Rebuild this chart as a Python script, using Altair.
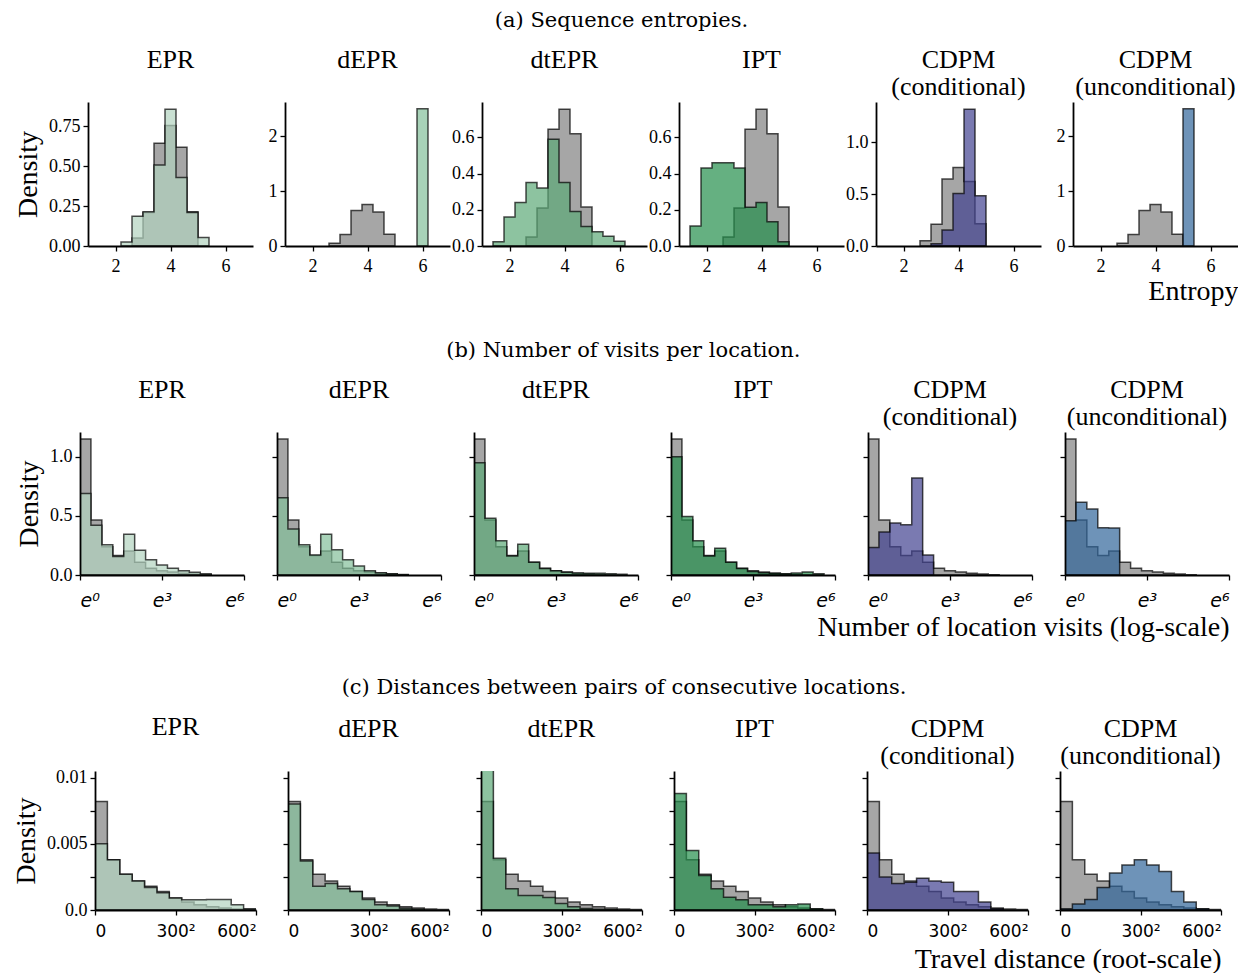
import altair as alt
import pandas as pd

SERIF = "Liberation Serif"
SANS = "DejaVu Sans"

PANEL_TITLES = [["EPR", " "], ["dEPR", " "], ["dtEPR", " "], ["IPT", " "],
                ["CDPM", "(conditional)"], ["CDPM", "(unconditional)"]]
MODEL_COLORS = ["#b2d3bf", "#83bf9a", "#5ca977", "#248e4c", "#424290", "#31659a"]
GREY = "#808080"

# ---------------- (a) Sequence entropies ----------------
edges_a = [1.4, 1.8, 2.2, 2.6, 3.0, 3.4, 3.8, 4.2, 4.6, 5.0, 5.4, 5.8, 6.2]
grey_a = [0, 0, 0, 0.05, 0.21, 0.645, 0.755, 0.62, 0.215, 0, 0, 0]
models_a = [
    [0, 0, 0.025, 0.187, 0.214, 0.508, 0.857, 0.43, 0.21, 0.053, 0, 0],          # EPR
    [0, 0, 0, 0, 0, 0, 0, 0, 0, 0, 0, 2.5],                                         # dEPR
    [0.024, 0.16, 0.24, 0.35, 0.32, 0.59, 0.35, 0.19, 0.108, 0.078, 0.054, 0.026], # dtEPR
    [0.11, 0.43, 0.46, 0.46, 0.43, 0.214, 0.24, 0.134, 0.024, 0, 0, 0],            # IPT
    [0, 0, 0, 0, 0.022, 0.155, 0.506, 1.316, 0.484, 0, 0, 0],                       # CDPM cond
    [0, 0, 0, 0, 0, 0, 0, 0, 0, 2.5, 0, 0],                                         # CDPM uncond
]
ydom_a = [0.903, 2.625, 0.795, 0.795, 1.386, 2.625]
yticks_a = [[0, 0.25, 0.5, 0.75], [0, 1, 2], [0, 0.2, 0.4, 0.6], [0, 0.2, 0.4, 0.6],
            [0, 0.5, 1.0], [0, 1, 2]]
yfmt_a = [".2f", "d", ".1f", ".1f", ".1f", "d"]

# ---------------- (b) Visits per location (log scale) ----------------
edges_b = [0, 0.4, 0.8, 1.2, 1.6, 2.0, 2.4, 2.8, 3.2, 3.6, 4.0, 4.4, 4.8, 5.2, 5.6]
grey_b = [1.15, 0.465, 0.24, 0.165, 0.204, 0.107, 0.057, 0.037, 0.025, 0.014, 0.008, 0.003, 0, 0]
models_b = [
    [0.69, 0.42, 0.256, 0.156, 0.344, 0.21, 0.128, 0.085, 0.057, 0.037, 0.023, 0.011, 0, 0],
    [0.653, 0.39, 0.256, 0.17, 0.344, 0.213, 0.128, 0.077, 0.037, 0.02, 0.011, 0.005, 0, 0],
    [0.95, 0.48, 0.29, 0.16, 0.26, 0.107, 0.054, 0.037, 0.023, 0.017, 0.014, 0.014, 0.011, 0.006],
    [1.0, 0.495, 0.29, 0.16, 0.226, 0.107, 0.054, 0.03, 0.02, 0.014, 0.011, 0.017, 0.025, 0.01],
    [0.232, 0.363, 0.44, 0.425, 0.82, 0.17, 0, 0, 0, 0, 0, 0, 0, 0],
    [0.46, 0.615, 0.558, 0.40, 0.397, 0, 0, 0, 0, 0, 0, 0, 0, 0],
]

# ---------------- (c) Travel distances (root scale) ----------------
edges_c = [0, 46.15, 92.3, 138.45, 184.6, 230.75, 276.9, 323.05, 369.2, 415.35, 461.5,
           507.65, 553.8, 600]
grey_c = [0.0082, 0.0038, 0.0027, 0.0022, 0.0018, 0.0014, 0.0009, 0.0006, 0.0004,
          0.00025, 0.00015, 0.00007, 0.00003]
models_c = [
    [0.0050, 0.0038, 0.0027, 0.0022, 0.0017, 0.0013, 0.0009, 0.00078, 0.00078, 0.0008, 0.0008, 0.0004, 0.0001],
    [0.0080, 0.0037, 0.0018, 0.0020, 0.0016, 0.0014, 0.0008, 0.0004, 0.0003, 0.00013, 0.00005, 0, 0],
    [0.0125, 0.0039, 0.0016, 0.0011, 0.0011, 0.00095, 0.0005, 0.00025, 0.00012, 0.00005, 0.00002, 0, 0],
    [0.0088, 0.0045, 0.0026, 0.0016, 0.00097, 0.00077, 0.0004, 0.0004, 0.00025, 0.0004, 0.00045, 0.0001, 0],
    [0.0043, 0.0025, 0.0020, 0.0021, 0.0024, 0.0022, 0.0021, 0.0014, 0.0014, 0.0006, 0.0001, 0, 0],
    [0.0001, 0.00045, 0.0008, 0.0017, 0.0028, 0.0034, 0.0038, 0.0034, 0.0029, 0.0014, 0.0006, 0.0001, 0],
]

ROW_TITLES = ["(a) Sequence entropies.", "(b) Number of visits per location.",
              "(c) Distances between pairs of consecutive locations."]
X_TITLES = ["Entropy", "Number of location visits (log-scale)", "Travel distance (root-scale)"]


def step_df(edges, vals):
    nz = [i for i, v in enumerate(vals) if v > 0]
    i0, i1 = nz[0], nz[-1]
    xs = list(edges[i0:i1 + 2])
    ys = list(vals[i0:i1 + 1]) + [0.0]
    return pd.DataFrame({"x": xs, "y": ys})


AX = dict(domainColor="black", tickColor="black", labelColor="black", domainWidth=1.8,
          tickWidth=1.3, tickSize=5, grid=False, zindex=1, titleFont=SERIF,
          titleFontSize=28, titleFontWeight="normal", titleColor="black")


def xt(row, k, pad):
    if k == 5:
        return {"title": X_TITLES[row], "titleAnchor": "end", "titlePadding": pad}
    return {"title": None}


def yt(k):
    if k == 0:
        return {"title": "Density", "titlePadding": 6}
    return {"title": None}


# per-row layout: plot width, plot height, panel spacing, left spacer, title shift
ROW_W = [165, 164, 161]
ROW_H = [144, 143, 139]
ROW_SP = [32, 33, 32]
ROW_LEAD = [43, 34, 50]
ROW_DX = [-4, 2, 7]


def make_panel(row, k):
    W, H = ROW_W[row], ROW_H[row]
    if row == 0:
        edges, grey, models = edges_a, grey_a, models_a
        xdom = [1, 7]
        xaxis = alt.Axis(values=[2, 4, 6], format="d", labelFont=SERIF, labelFontSize=18,
                         labelPadding=6, **AX, **xt(row, k, 2))
        ydom = [0, ydom_a[k]]
        yaxis = alt.Axis(values=yticks_a[k], format=yfmt_a[k], labelFont=SERIF,
                         labelFontSize=18, labelPadding=3, **AX, **yt(k))
    elif row == 1:
        edges, grey, models = edges_b, grey_b, models_b
        xdom = [0, 6]
        xaxis = alt.Axis(values=[0, 3, 6],
                         labelExpr="datum.value == 0 ? 'e⁰' : datum.value == 3 ? 'e³' : 'e⁶'",
                         labelFont=SANS, labelFontSize=19, labelFontStyle="italic",
                         labelPadding=11, **AX, **xt(row, k, 3))
        ydom = [0, 1.21]
        yaxis = alt.Axis(values=[0, 0.5, 1.0], format=".1f", labelFont=SERIF,
                         labelFontSize=18, labelPadding=3, labels=(k == 0), **AX, **yt(k))
    else:
        edges, grey, models = edges_c, grey_c, models_c
        xdom = [0, 600]
        xaxis = alt.Axis(values=[0, 300, 600],
                         labelExpr="datum.value == 0 ? '0' : datum.value == 300 ? '300²' : '600²'",
                         labelFont=SANS, labelFontSize=17, labelPadding=8, **AX,
                         **xt(row, k, 6))
        ydom = [0, 0.0105]
        yaxis = alt.Axis(values=[0, 0.0025, 0.005, 0.0075, 0.01],
                         labelExpr="datum.value == 0 ? '0.0' : datum.value == 0.005 ? '0.005' : datum.value == 0.01 ? '0.01' : ''",
                         labelFont=SERIF, labelFontSize=18, labelPadding=3, labels=(k == 0),
                         **AX, **yt(k))

    xenc = alt.X("x:Q", scale=alt.Scale(domain=xdom, nice=False, zero=False), axis=xaxis)
    yenc = alt.Y("y:Q", scale=alt.Scale(domain=ydom, nice=False), axis=yaxis)

    def layer(df, color):
        return alt.Chart(df).mark_area(
            interpolate="step-after", color=color, fillOpacity=0.7, stroke="black",
            strokeOpacity=0.7, strokeWidth=1.5, clip=True
        ).encode(x=xenc, y=yenc)

    ch = alt.layer(layer(step_df(edges, grey), GREY),
                   layer(step_df(edges, models[k]), MODEL_COLORS[k]))
    return ch.properties(width=W, height=H,
                         title=alt.TitleParams(PANEL_TITLES[k], font=SERIF, fontSize=26,
                                               fontWeight="normal", lineHeight=27, offset=2,
                                               color="black"))


def spacer(row):
    return alt.Chart(pd.DataFrame({"v": [0]})).mark_point(opacity=0).encode(
        x=alt.X("v:Q", axis=None), y=alt.Y("v:Q", axis=None)
    ).properties(width=ROW_LEAD[row], height=ROW_H[row])


rows = []
for r in range(3):
    rows.append(alt.hconcat(spacer(r), *[make_panel(r, k) for k in range(6)],
                            spacing=ROW_SP[r], bounds="flush",
                            title=alt.TitleParams(ROW_TITLES[r], font="DejaVu Serif",
                                                  fontSize=21, fontWeight="normal",
                                                  anchor="middle", color="black", offset=16,
                                                  dx=ROW_DX[r])))

chart = alt.vconcat(*rows, spacing=35).configure_view(
    stroke=None).properties(padding={"left": 4, "top": 2, "right": 0, "bottom": 0})

chart.save("out.html", embed_options={"renderer": "svg", "actions": False})
